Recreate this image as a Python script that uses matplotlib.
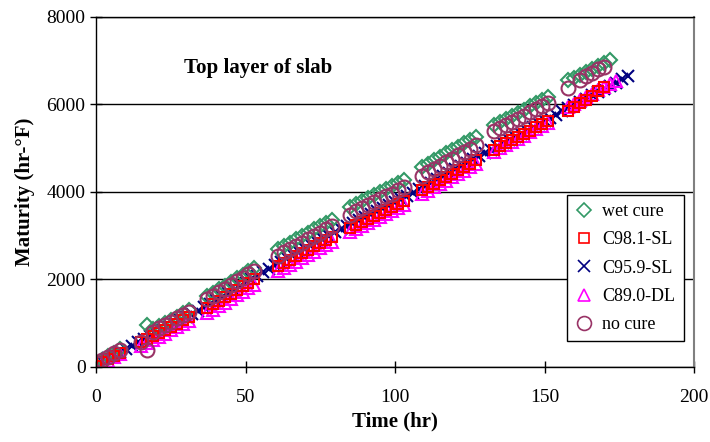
import matplotlib
matplotlib.use("Agg")
import matplotlib.pyplot as plt

plt.rcParams['font.family'] = ['Liberation Serif', 'DejaVu Serif']

# Time (hr) and maturity (hr-F), per curing condition
wet_t = [0, 2, 4, 6, 8,
         17, 19, 21, 23, 25, 27, 29, 31,
         37, 39, 41, 43, 45, 47, 49, 51, 53,
         61, 63, 65, 67, 69, 71, 73, 75, 77, 79,
         85, 87, 89, 91, 93, 95, 97, 99, 101, 103,
         109, 111, 113, 115, 117, 119, 121, 123, 125, 127,
         133, 135, 137, 139, 141, 143, 145, 147, 149, 151,
         158, 160, 162, 164, 166, 168, 170, 172]
wet_m = [40, 160, 250, 330, 400,
         960, 865, 935, 1005, 1075, 1150, 1225, 1295,
         1620, 1700, 1780, 1860, 1945, 2030, 2110, 2190, 2270,
         2695, 2770, 2845, 2920, 2995, 3070, 3145, 3220, 3295, 3370,
         3655, 3725, 3795, 3865, 3935, 4005, 4070, 4135, 4205, 4275,
         4575, 4650, 4730, 4805, 4880, 4960, 5035, 5110, 5190, 5265,
         5525, 5600, 5675, 5745, 5815, 5885, 5960, 6035, 6105, 6175,
         6550, 6610, 6680, 6750, 6820, 6890, 6950, 7010]

c981_t = [0, 2, 4, 6, 8,
          15, 17, 19, 21, 23, 25, 27, 29, 31,
          37, 39, 41, 43, 45, 47, 49, 51, 53,
          61, 63, 65, 67, 69, 71, 73, 75, 77, 79,
          85, 87, 89, 91, 93, 95, 97, 99, 101, 103,
          109, 111, 113, 115, 117, 119, 121, 123, 125, 127,
          133, 135, 137, 139, 141, 143, 145, 147, 149, 151,
          158, 160, 162, 164, 166, 168, 170]
c981_m = [30, 110, 180, 260, 330,
          560, 635, 705, 775, 845, 915, 990, 1065, 1135,
          1350, 1430, 1510, 1590, 1675, 1760, 1840, 1920, 2000,
          2305, 2380, 2455, 2530, 2605, 2680, 2755, 2830, 2905, 2980,
          3175, 3245, 3315, 3385, 3455, 3525, 3590, 3655, 3725, 3795,
          4035, 4110, 4190, 4265, 4340, 4420, 4495, 4570, 4650, 4725,
          4965, 5040, 5115, 5185, 5255, 5325, 5400, 5475, 5545, 5615,
          5840, 5940, 6030, 6100, 6190, 6300, 6390]

c959_t = list(range(0, 180, 2))
c959_m = [60, 130, 200, 280, 350, 420, 490, 560, 640, 710,
          780, 850, 920, 990, 1070, 1140, 1210, 1280, 1360, 1440,
          1520, 1600, 1680, 1770, 1850, 1930, 2010, 2090, 2170, 2250,
          2330, 2400, 2480, 2550, 2630, 2700, 2780, 2850, 2930, 3000,
          3080, 3150, 3220, 3290, 3360, 3430, 3500, 3570, 3640, 3700,
          3770, 3840, 3910, 3980, 4060, 4130, 4210, 4290, 4360, 4440,
          4520, 4590, 4670, 4750, 4820, 4900, 4970, 5040, 5120, 5190,
          5260, 5330, 5400, 5480, 5550, 5620, 5690, 5760, 5840, 5910,
          5980, 6060, 6130, 6210, 6280, 6360, 6430, 6500, 6580, 6650]

c890_t = [0, 2, 4, 6, 8,
          15, 17, 19, 21, 23, 25, 27, 29, 31,
          37, 39, 41, 43, 45, 47, 49, 51, 53,
          61, 63, 65, 67, 69, 71, 73, 75, 77, 79,
          85, 87, 89, 91, 93, 95, 97, 99, 101, 103,
          109, 111, 113, 115, 117, 119, 121, 123, 125, 127,
          133, 135, 137, 139, 141, 143, 145, 147, 149, 151,
          158, 160, 162, 164, 166, 168, 170, 172, 174]
c890_m = [10, 70, 140, 220, 290,
          480, 555, 625, 695, 765, 835, 910, 985, 1055,
          1230, 1310, 1390, 1470, 1555, 1640, 1720, 1800, 1880,
          2185, 2260, 2335, 2410, 2485, 2560, 2635, 2710, 2785, 2860,
          3075, 3145, 3215, 3285, 3355, 3425, 3490, 3555, 3625, 3695,
          3955, 4030, 4110, 4185, 4260, 4340, 4415, 4490, 4570, 4645,
          4925, 5000, 5075, 5145, 5215, 5285, 5360, 5435, 5505, 5575,
          5950, 6020, 6100, 6170, 6250, 6320, 6400, 6470, 6540]

nocure_t = [0, 2, 4, 6, 8,
            15, 17, 19, 21, 23, 25, 27, 29, 31,
            37, 39, 41, 43, 45, 47, 49, 51, 53,
            61, 63, 65, 67, 69, 71, 73, 75, 77, 79,
            85, 87, 89, 91, 93, 95, 97, 99, 101, 103,
            109, 111, 113, 115, 117, 119, 121, 123, 125, 127,
            133, 135, 137, 139, 141, 143, 145, 147, 149, 151,
            158, 162, 164, 166, 168, 170]
nocure_m = [80, 160, 230, 310, 380,
            570, 390, 800, 895, 965, 1035, 1110, 1185, 1255,
            1550, 1630, 1710, 1790, 1875, 1960, 2040, 2120, 2200,
            2545, 2620, 2695, 2770, 2845, 2920, 2995, 3070, 3145, 3220,
            3485, 3555, 3625, 3695, 3765, 3835, 3900, 3965, 4035, 4105,
            4375, 4450, 4530, 4605, 4680, 4760, 4835, 4910, 4990, 5065,
            5385, 5460, 5535, 5605, 5675, 5745, 5820, 5895, 5965, 6035,
            6370, 6560, 6640, 6720, 6800, 6860]

fig = plt.figure(figsize=(7.1, 4.42), dpi=100)
ax = fig.add_axes([0.1352, 0.1697, 0.8423, 0.7919])

mk = dict(linestyle='none', markerfacecolor='none', markeredgewidth=1.5)
h_959, = ax.plot(c959_t, c959_m, marker='x', color='#000080', markersize=9, label='C95.9-SL', **mk)
h_890, = ax.plot(c890_t, c890_m, marker='^', color='#FF00FF', markersize=9, label='C89.0-DL', **mk)
h_wet, = ax.plot(wet_t, wet_m, marker='D', color='#339966', markersize=7.5, label='wet cure', **mk)
h_981, = ax.plot(c981_t, c981_m, marker='s', color='#FF0000', markersize=7.5, label='C98.1-SL', **mk)
h_no, = ax.plot(nocure_t, nocure_m, marker='o', color='#993366', markersize=10, label='no cure', **mk)

ax.set_xlim(0, 200)
ax.set_ylim(0, 8000)
ax.set_xticks([0, 50, 100, 150, 200])
ax.set_yticks([0, 2000, 4000, 6000, 8000])
ax.yaxis.grid(True, color='black', linewidth=1)
ax.set_axisbelow(True)
ax.tick_params(axis='both', direction='inout', length=9, width=1, labelsize=14, colors='black')
ax.tick_params(axis='x', pad=11)
ax.tick_params(axis='y', pad=3)
for s in ['left', 'bottom', 'top']:
    ax.spines[s].set_color('black')
    ax.spines[s].set_linewidth(1)
ax.spines['right'].set_color('#808080')
ax.spines['right'].set_linewidth(1.5)

ax.set_xlabel('Time (hr)', fontsize=15, fontweight='bold', labelpad=4)
ax.set_ylabel('Maturity (hr-°F)', fontsize=15, fontweight='bold', labelpad=8)
ax.text(0.271, 0.854, 'Top layer of slab', transform=ax.transAxes, ha='center', va='center',
        fontsize=15, fontweight='bold')

leg = ax.legend(handles=[h_wet, h_981, h_959, h_890, h_no], loc='upper left',
                bbox_to_anchor=(0.788, 0.491), borderaxespad=0, fontsize=13,
                fancybox=False, framealpha=1, edgecolor='black', handlelength=1.0,
                handletextpad=0.5, labelspacing=0.62, borderpad=0.45)
leg.get_frame().set_linewidth(1)
for h in leg.legend_handles:
    h.set_markeredgewidth(1.2)

fig.savefig('out.png', dpi=100)
